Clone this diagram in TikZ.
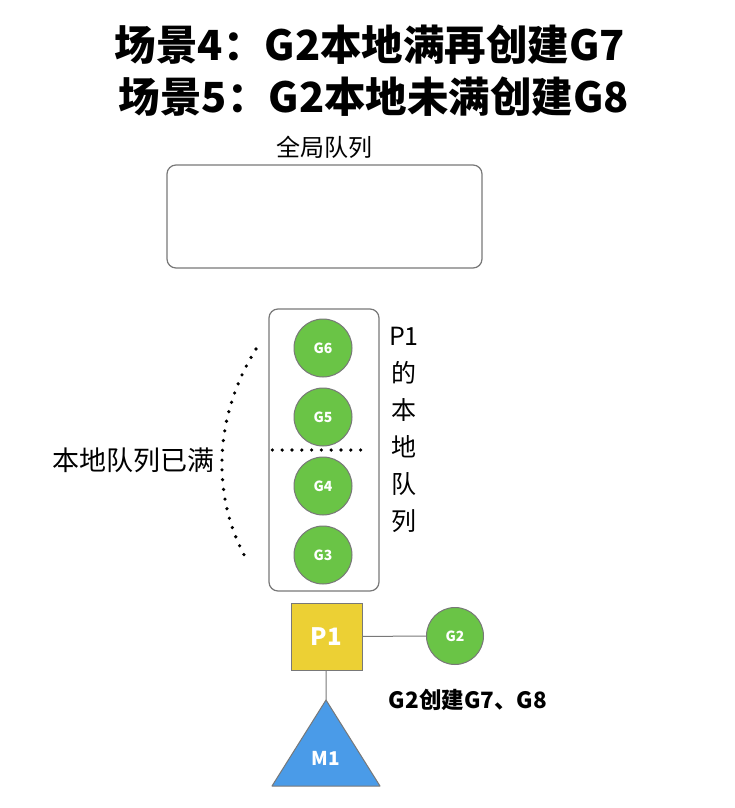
\documentclass[tikz,border=0pt]{standalone}
\usepackage{fontspec}
\setmainfont{Noto Sans CJK SC}
\usetikzlibrary{positioning, shapes.geometric}
\definecolor{ggreen}{RGB}{106,196,70}
\definecolor{pyellow}{RGB}{236,208,52}
\definecolor{mblue}{RGB}{74,155,232}
\definecolor{edgegray}{RGB}{120,120,120}
\tikzset{
  queue/.style={rectangle, draw=edgegray, line width=1.2pt, rounded corners=9pt},
  gor/.style={circle, minimum size=58pt, inner sep=0pt, draw=edgegray, line width=1pt,
    fill=ggreen, text=white, font=\fontsize{14}{14}\selectfont\bfseries},
  proc/.style={rectangle, minimum width=71pt, minimum height=67pt, draw=edgegray,
    line width=1pt, fill=pyellow, text=white, font=\fontsize{24}{24}\selectfont\bfseries},
  link/.style={draw=edgegray, line width=1pt},
  dots/.style={line width=3.6pt, line cap=round, dash pattern=on 0pt off 9.8pt},
  headline/.style={font=\fontsize{41.5}{41.5}\selectfont\bfseries},
  note/.style={font=\fontsize{24}{24}\selectfont},
}
\begin{document}
\begin{tikzpicture}[x=1pt, y=-1pt]
  \fill[white] (0,0) rectangle (735,808);
  \useasboundingbox (0,0) rectangle (735,808);

  % titles
  \node[headline] (t1) at (370,45) {场景4：G2本地满再创建G7};
  \node[headline] (t2) at (374,97) {场景5：G2本地未满创建G8};

  % global queue
  \node[queue, minimum width=315pt, minimum height=103pt] (gq) at (324.5,216.5) {};
  \node[note, above=2pt of gq] (gqlbl) {全局队列};

  % local queue of P1
  \node[queue, minimum width=110pt, minimum height=282pt] (lq) at (324,450) {};
  \node[gor] (g6) at (323,348) {G6};
  \node[gor, below=10pt of g6] (g5) {G5};
  \node[gor, below=10pt of g5] (g4) {G4};
  \node[gor, below=10pt of g4] (g3) {G3};
  \draw[dots] ([xshift=4pt]lq.west) -- ([xshift=-10pt]lq.east);
  \node[font=\fontsize{25}{37}\selectfont, align=center] (lqlbl) at (404,430)
    {P1\\的\\本\\地\\队\\列};

  % full mark
  \coordinate (arctop) at (256,349);
  \coordinate (arcbot) at (248,562);
  \draw[dots] (arctop) .. controls (212,420) and (212,500) .. (arcbot);
  \node[note, font=\fontsize{27}{27}\selectfont, anchor=east] (full) at (218,460) {本地队列已满};

  % P, G, M
  \node[proc] (p1) at (326.5,636.5) {P1};
  \node[gor, minimum size=57pt] (g2) at (455,636) {G2};
  \draw[link] (p1) -- (g2);
  \coordinate (m1top) at (326,700);
  \draw[edgegray, line width=1pt, fill=mblue, line join=round]
    (m1top) -- (380,786) -- (272,786) -- cycle;
  \node[text=white, font=\fontsize{19}{19}\selectfont\bfseries] (m1) at (326,758) {M1};
  \draw[link] (p1) -- (m1top);
  \node[font=\fontsize{22.5}{22.5}\selectfont\bfseries] (create) at (468,700) {G2创建G7、G8};
\end{tikzpicture}
\end{document}
